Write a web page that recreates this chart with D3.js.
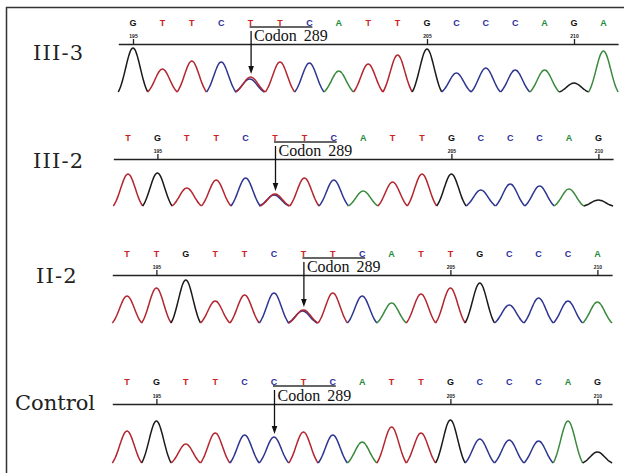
<!DOCTYPE html>
<html><head><meta charset="utf-8">
<script src="https://cdn.jsdelivr.net/npm/d3@7"></script>
<style>
html,body{margin:0;padding:0;background:#fff;}
svg{display:block;}
</style></head>
<body>
<svg id="c" width="624" height="473"></svg>
<script>
// ---------- data ----------
const panelNames = ["III-3", "III-2", "II-2", "Control"];
const startPositions = [195, 194, 194, 194];
const tickValues = [195, 205, 210];
const codonLabel = "Codon 289";

const bases_III3 = ["G","T","T","C","T","T","C","A","T","T","G","C","C","C","A","G","A"];
const bases_III2 = ["T","G","T","T","C","T","T","C","A","T","T","G","C","C","C","A","G"];
const bases_II2  = ["T","T","G","T","T","C","T","T","C","A","T","T","G","C","C","C","A"];
const bases_Ctrl = ["T","G","T","T","C","C","T","C","A","T","T","G","C","C","C","A","G"];

const signal_III3 = [44,23,31,30,15,30,29,21,28,37,43,19,24,22,22,9,41];
const signal_III2 = [32,33,18,26,28,12,28,26,15,24,32,32,16,22,20,17,6];
const signal_II2  = [27,35,43,22,28,30,13,30,27,20,29,35,40,18,25,22,21];
const signal_Ctrl = [32,42,19,30,28,26,31,28,21,36,30,43,24,23,22,42,11];

// codon 289 first-base index in each panel
const codonIndex = [4, 5, 6, 5];
// heterozygous secondary peak (C under the T) per panel: [index, base, signal]
const het_III3 = [4, "C", 13];
const het_III2 = [5, "C", 11];
const het_II2  = [6, "C", 12];
const het_Ctrl = null;

const allBases = [bases_III3, bases_III2, bases_II2, bases_Ctrl];
const allSignals = [signal_III3, signal_III2, signal_II2, signal_Ctrl];
const allHet = [het_III3, het_III2, het_II2, het_Ctrl];

// ---------- layout ----------
const layout = [
  {x0:133, letterY:22,  axisY:44,  baseY:92,  labelX:33, labelY:60},
  {x0:128, letterY:137, axisY:159, baseY:206, labelX:33, labelY:168},
  {x0:127, letterY:253, axisY:275, baseY:323, labelX:36, labelY:283},
  {x0:127, letterY:381, axisY:404, baseY:463, labelX:15, labelY:410}
];
const step = 29.4;
const letterColor = {T:"#cc2222", C:"#2b2f9c", A:"#1f8a3a", G:"#111111"};
const traceColor  = {T:"#b3262f", C:"#2e3590", A:"#3a8a3e", G:"#1a1a1a"};

const svg = d3.select("#c");

// frame (top and left edges)
svg.append("line").attr("x1",6).attr("x2",624).attr("y1",7.5).attr("y2",7.5)
  .attr("stroke","#333").attr("stroke-width",1.5);
svg.append("line").attr("x1",6.5).attr("x2",6.5).attr("y1",7).attr("y2",473)
  .attr("stroke","#333").attr("stroke-width",1.5);

const sig = 0.25;
const e0 = Math.exp(-0.25/(2*sig*sig));
function shape(t){ return Math.max(0,(Math.exp(-t*t/(2*sig*sig)) - e0)/(1-e0)); }
const ts = d3.range(-0.5, 0.5001, 0.05);

panelNames.forEach((name, p) => {
  const L = layout[p];
  const start = startPositions[p];
  const bases = allBases[p];
  const signals = allSignals[p];
  const n = bases.length;
  const x = d3.scaleLinear().domain([start, start + n - 1]).range([L.x0, L.x0 + (n-1)*step]);
  const y = d3.scaleLinear().domain([0, 50]).range([L.baseY, L.baseY - 50]);
  const g = svg.append("g");

  // label
  g.append("text").attr("x", L.labelX).attr("y", L.labelY)
    .attr("font-family","DejaVu Serif").attr("font-size",21).attr("fill","#222")
    .attr("letter-spacing", name === "Control" ? 0 : 1.2)
    .text(name);

  // base calls
  g.selectAll("text.base").data(bases).join("text").attr("class","base")
    .attr("x",(d,i)=>x(start+i)).attr("y",L.letterY+3.5)
    .attr("text-anchor","middle").attr("font-family","Liberation Sans, Arial")
    .attr("font-weight","bold").attr("font-size",9)
    .attr("fill",d=>letterColor[d]).text(d=>d);

  // axis
  const xa = x.copy().domain([start-0.5, start+n-0.5]).range([x(start-0.5), x(start+n-0.5)]);
  const ax = g.append("g").attr("transform",`translate(0,${L.axisY})`)
    .call(d3.axisTop(xa).tickValues(tickValues).tickSize(5).tickSizeOuter(0).tickPadding(1));
  ax.select(".domain").attr("stroke","#222").attr("stroke-width",1.5);
  ax.selectAll(".tick line").attr("stroke","#222").attr("stroke-width",1.3);
  ax.selectAll(".tick text").attr("font-size",5).attr("font-weight","bold")
    .attr("font-family","Liberation Sans, Arial").attr("fill","#222");

  // traces
  const line = d3.line().x(d=>d[0]).y(d=>d[1]).curve(d3.curveCatmullRom);
  const peaks = bases.map((b,i)=>({b, pos:start+i, h:signals[i], off:0}));
  const het = allHet[p];
  if (het) peaks.push({b:het[1], pos:start+het[0], h:het[2], off:-0.03});
  const ordered = het ? [peaks[peaks.length-1]].concat(peaks.slice(0,-1)) : peaks;
  g.selectAll("path.trace").data(ordered).join("path").attr("class","trace")
    .attr("d", d => line(ts.map(t => [x(d.pos + d.off + t), y(d.h*shape(t))])))
    .attr("fill","none").attr("stroke",d=>traceColor[d.b]).attr("stroke-width",1.5);

  // codon bracket, arrow and label
  const ci = codonIndex[p];
  const bx1 = x(start+ci) - 1, bx2 = x(start+ci+2) + 3;
  const by = L.letterY + 5;
  g.append("line").attr("x1",bx1).attr("x2",bx2).attr("y1",by).attr("y2",by)
    .attr("stroke","#333").attr("stroke-width",1.5);
  const ax0 = x(start+ci) + 0.5;
  const tipY = y(signals[ci]) - 3;
  g.append("line").attr("x1",ax0).attr("x2",ax0).attr("y1",by+4).attr("y2",tipY-6)
    .attr("stroke","#111").attr("stroke-width",1.3);
  g.append("path").attr("d",`M${ax0-2.8},${tipY-8}L${ax0+2.8},${tipY-8}L${ax0},${tipY}Z`)
    .attr("fill","#111");
  g.append("text").attr("x",ax0+3).attr("y",L.axisY-3)
    .attr("font-family","Liberation Serif, Times New Roman").attr("font-size",16)
    .attr("fill","#111").attr("word-spacing",3).text(codonLabel);
});
</script>
</body></html>
